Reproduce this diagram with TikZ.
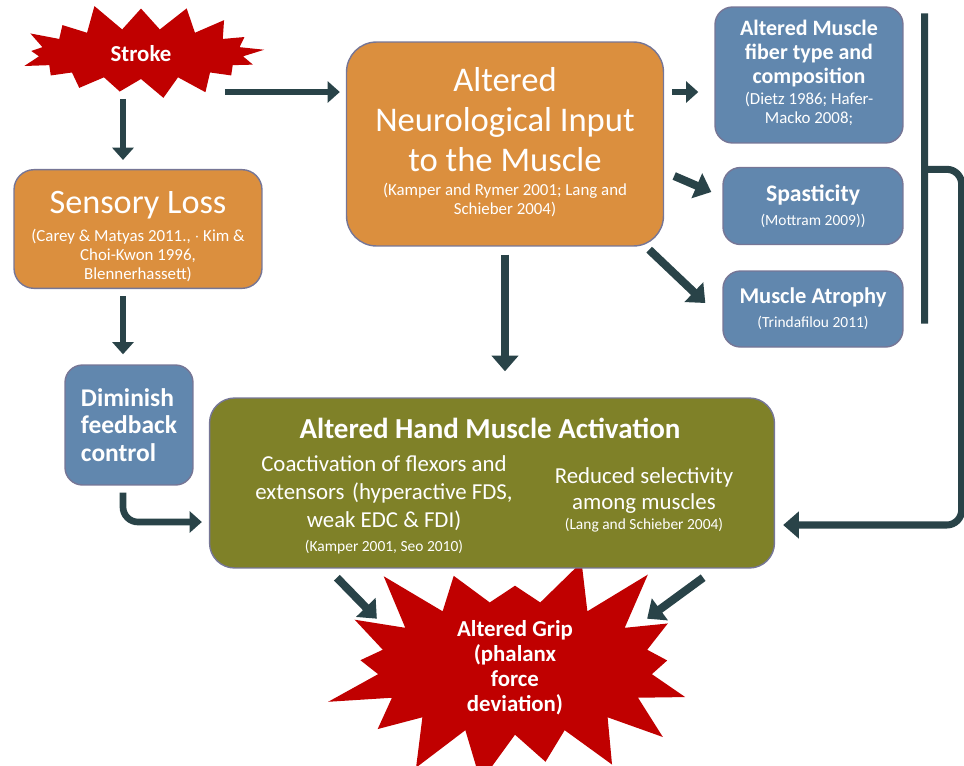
\documentclass[tikz,border=0pt]{standalone}
\usepackage{fontspec}
\setmainfont{Carlito}
\usetikzlibrary{shapes.symbols, arrows.meta, calc}

\definecolor{boxorange}{RGB}{219,143,62}
\definecolor{boxblue}{RGB}{97,135,174}
\definecolor{boxolive}{RGB}{127,129,40}
\definecolor{burstred}{RGB}{192,0,0}
\definecolor{arrowdark}{RGB}{41,67,72}
\definecolor{boxedge}{RGB}{118,118,150}

% small reference lines under a title
\newcommand{\citesize}{\fontsize{9.6}{10.8}\selectfont\mdseries}
\newcommand{\citesmall}{\fontsize{8.8}{10.4}\selectfont\mdseries}
\newcommand{\citeblock}[1]{{\citesize\begin{tabular}{@{}c@{}}#1\end{tabular}}}

\begin{document}
\begin{tikzpicture}[x=0.02cm, y=-0.02cm,
  box/.style={rounded corners=0.4cm, draw=boxedge, line width=0.8pt, text=white, align=center, inner sep=2pt},
  orangebox/.style={box, fill=boxorange},
  bluebox/.style={box, fill=boxblue, rounded corners=0.35cm},
  burst/.style={starburst, starburst points=17, fill=burstred, text=white, align=center, inner sep=0pt},
  arr/.style={draw=arrowdark, line width=4.6pt, -{Triangle[length=9pt,width=15pt]}},
  thinarr/.style={arr, line width=3.8pt, -{Triangle[length=7pt,width=12pt]}}
]
\clip (0,0) rectangle (964,765);

% the two bursts
\node (stroke) at (141,54) [burst, minimum width=5.2cm, minimum height=2.1cm,
  starburst point height=0.55cm, random starburst=11, font=\fontsize{13}{15}\selectfont\bfseries] {Stroke};
\node (grip) at (515,668) [burst, minimum width=7.9cm, minimum height=4.6cm,
  starburst point height=1.2cm, random starburst=23, font=\fontsize{13}{14.2}\selectfont\bfseries]
  {Altered Grip\\(phalanx\\force\\deviation)};

% left column
\node (sensory) at (138,229) [orangebox, minimum width=4.96cm, minimum height=2.36cm, font=\fontsize{19.5}{21}\selectfont]
  {\rule{0pt}{23pt}Sensory Loss\\[4pt]
   \citeblock{(Carey \& Matyas 2011., $\cdot$ Kim \&\\ Choi-Kwon 1996,\\ Blennerhassett)}};
\node (diminish) at (129,425) [bluebox, minimum width=2.56cm, minimum height=2.4cm, align=left,
  font=\fontsize{14.5}{15.6}\selectfont\bfseries]
  {Diminish\\feedback\\control};

% centre box
\node (neuro) at (505,144) [orangebox, minimum width=6.34cm, minimum height=4.08cm, rounded corners=0.6cm,
  font=\fontsize{19.7}{22.7}\selectfont]
  {Altered\\Neurological Input\\to the Muscle\\[-3pt]
   \citeblock{(Kamper and Rymer 2001; Lang and\\ Schieber 2004)}};

% right column
\node (fiber) at (809,75) [bluebox, minimum width=3.76cm, minimum height=2.72cm,
  font=\fontsize{12.5}{13.6}\selectfont\bfseries]
  {Altered Muscle\\fiber type and\\composition\\[1.5pt]
   \citeblock{(Dietz 1986; Hafer-\\ Macko 2008;}};
\node (spast) at (813,206) [bluebox, minimum width=3.6cm, minimum height=1.54cm,
  font=\fontsize{13.5}{13.6}\selectfont\bfseries]
  {Spasticity\\ \citesmall (Mottram 2009))};
\node (atrophy) at (813,309) [bluebox, minimum width=3.6cm, minimum height=1.52cm,
  font=\fontsize{12.8}{13.6}\selectfont\bfseries]
  {Muscle Atrophy\\ \citesmall (Trindafilou 2011)};

% bottom box with its three texts
\node (hand) at (492,483) [box, fill=boxolive, minimum width=11.3cm, minimum height=3.4cm, rounded corners=0.5cm] {};
\node (handtitle) at (490,428) [text=white, font=\fontsize{16.5}{18}\selectfont\bfseries] {Altered Hand Muscle Activation};
\node (handleft) at (384,505) [text=white, align=center, font=\fontsize{13}{15.8}\selectfont]
  {Coactivation of flexors and\\extensors\,\,(hyperactive FDS,\\weak EDC \& FDI)\\[-2pt]
   \citesmall (Kamper 2001, Seo 2010)};
\node (handright) at (644,500) [text=white, align=center, font=\fontsize{13}{14.8}\selectfont]
  {Reduced selectivity\\among muscles\\[-3pt]
   \citesmall (Lang and Schieber 2004)};

% arrows out of the stroke
\draw[thinarr] ($(sensory.north)+(-15,-70)$) -- ($(sensory.north)+(-15,-9)$);
\draw[thinarr] ($(neuro.west)+(-121,-52)$) -- ($(neuro.west)+(-6,-52)$);
\draw[thinarr] ($(sensory.south)+(-15,7)$) -- ($(diminish.north)+(-6,-10)$);
\draw[thinarr, rounded corners=0.3cm] ($(diminish.south)+(-6,7)$) |- ($(hand.west)+(-7,39)$);

% arrows out of the neurological box
\draw[thinarr, line width=3.6pt] ($(neuro.east)+(8,-52)$) -- ($(fiber.west)+(-16,17)$);
\draw[arr] ($(neuro.east)+(10,32)$) -- ($(spast.west)+(-11,-14)$);
\draw[arr] ($(neuro.south east)+(-15,3)$) -- ($(atrophy.west)+(-17,-6)$);
\draw[arr] ($(neuro.south)+(0,8)$) -- ($(neuro.south |- hand.north)+(0,-26)$);

% bracket gathering the muscle changes
\coordinate (brtop) at ($(fiber.north east)+(21,7)$);
\coordinate (brbot) at ($(atrophy.south east)+(21,-24)$);
\coordinate (brmid) at ($(brtop)+(0,156)$);
\draw[draw=arrowdark, line width=4pt] (brtop) -- (brbot);
\draw[arr, line width=4pt, rounded corners=0.3cm] (brmid) -- ++(37,0) |- ($(hand.east)+(8,42)$);

% into the grip
\draw[arr] ($(hand.south west)+(128,9)$) -- ($(hand.south west)+(168,50)$);
\draw[arr] ($(hand.south east)+(-72,9)$) -- ($(hand.south east)+(-128,50)$);

\end{tikzpicture}
\end{document}
